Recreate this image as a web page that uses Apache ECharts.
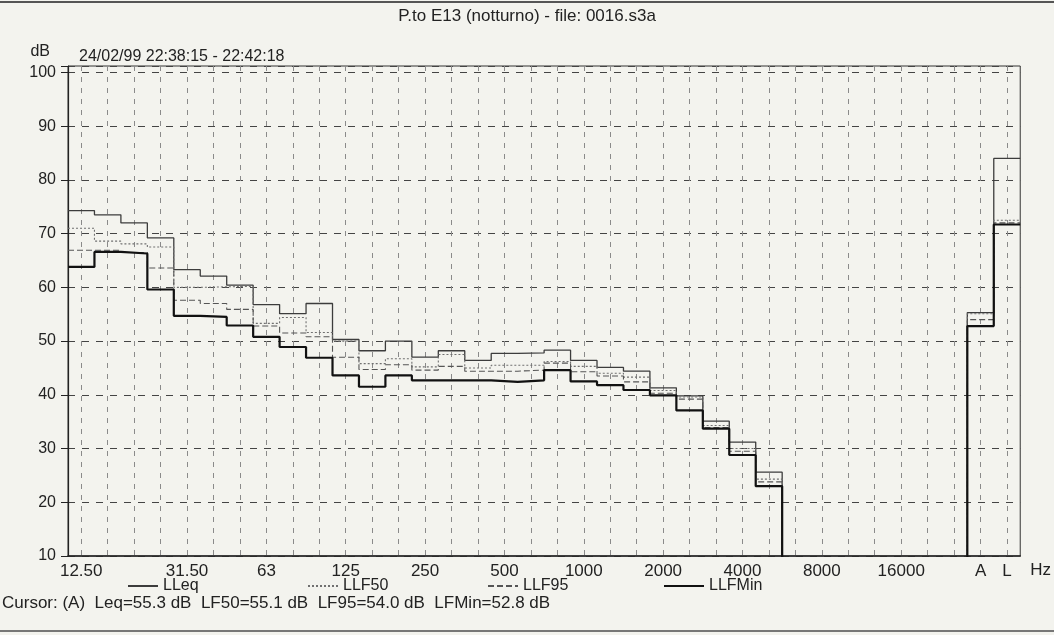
<!DOCTYPE html>
<html>
<head>
<meta charset="utf-8">
<title>P.to E13 (notturno) - file: 0016.s3a</title>
<script src="https://cdn.jsdelivr.net/npm/echarts@6/dist/echarts.min.js"></script>
<style>
  html, body { margin: 0; padding: 0; background: #f3f3ee; }
  #chart { width: 1054px; height: 635px; }
</style>
</head>
<body>
<div id="chart"></div>
<script>
// 1/3 octave bands 12.5 Hz .. 20 kHz, an empty slot, then the A and L totals
const bands = ['12.5', '16', '20', '25', '31.5', '40', '50', '63', '80', '100',
  '125', '160', '200', '250', '315', '400', '500', '630', '800', '1000',
  '1250', '1600', '2000', '2500', '3150', '4000', '5000', '6300', '8000', '10000',
  '12500', '16000', '20000', '', 'A', 'L']

const tickLabels = ['12.50', '', '', '', '31.50', '', '', '63', '', '',
  '125', '', '', '250', '', '', '500', '', '', '1000',
  '', '', '2000', '', '', '4000', '', '', '8000', '',
  '', '16000', '', '', 'A', 'L']

// dB values per band (0 = nothing measured above the bottom of the scale)
const lleq = [74.3, 73.5, 72.0, 69.2, 63.3, 62.1, 60.4, 56.8, 55.1, 57.0,
  50.3, 48.2, 50.0, 47.0, 48.2, 46.4, 47.7, 47.8, 48.3, 46.4,
  45.1, 44.4, 41.3, 39.8, 35.1, 31.2, 25.6, 0, 0, 0,
  0, 0, 0, 0, 55.3, 84.0]

const llf50 = [71.0, 68.6, 68.1, 67.5, 60.0, 60.1, 60.2, 53.3, 54.4, 51.6,
  50.0, 45.8, 46.7, 45.2, 47.5, 45.0, 45.5, 45.5, 46.2, 45.3,
  44.0, 43.3, 40.8, 39.6, 34.3, 30.0, 24.3, 0, 0, 0,
  0, 0, 0, 0, 55.1, 72.5]

const llf95 = [66.9, 66.9, 66.5, 63.6, 57.6, 57.0, 55.9, 52.8, 51.5, 50.8,
  47.0, 44.7, 45.6, 44.6, 45.3, 44.4, 44.4, 44.6, 45.9, 44.3,
  43.5, 42.4, 40.3, 39.2, 33.9, 29.5, 23.8, 0, 0, 0,
  0, 0, 0, 0, 54.0, 72.0]

const llfmin = [63.8, 66.6, 66.3, 59.6, 54.7, 54.5, 52.9, 50.8, 48.9, 46.9,
  43.6, 41.5, 43.6, 42.7, 42.7, 42.7, 42.4, 42.7, 44.6, 42.5,
  41.8, 40.9, 39.9, 37.1, 33.7, 28.8, 23.0, 0, 0, 0,
  0, 0, 0, 0, 52.8, 71.7]

const FONT = '"Liberation Sans", Arial, sans-serif'
const INK = '#222'

// each band is drawn as a flat step from its left edge to its right edge
const toSteps = values => values.map((v, i) => [i, v]).concat([[values.length, values[values.length - 1]]])

const chart = echarts.init(document.getElementById('chart'))

const stepSeries = (name, values, lineStyle) => ({
  name,
  type: 'line',
  xAxisIndex: 1,
  step: 'end',
  symbol: 'none',
  clip: true,
  silent: true,
  animation: false,
  color: lineStyle.color,
  itemStyle: { color: lineStyle.color },
  lineStyle,
  data: toSteps(values)
})

const legendAt = (name, left, itemWidth) => ({
  data: [name],
  left,
  top: 573,
  itemWidth,
  itemHeight: 10,
  itemGap: 0,
  itemStyle: { opacity: 0 },
  textStyle: { color: INK, fontSize: 16, fontFamily: FONT }
})

const option = {
  backgroundColor: '#f3f3ee',
  animation: false,
  title: [
    {
      text: 'P.to E13 (notturno) - file: 0016.s3a',
      left: 'center',
      top: 3,
      textStyle: { color: INK, fontSize: 17, fontWeight: 'normal', fontFamily: FONT }
    },
    {
      text: '24/02/99 22:38:15 - 22:42:18',
      left: 74,
      top: 44,
      textStyle: { color: INK, fontSize: 16, fontWeight: 'normal', fontFamily: FONT }
    }
  ],
  legend: [
    legendAt('LLeq', 122, 30),
    legendAt('LLF50', 302, 30),
    legendAt('LLF95', 482, 30),
    legendAt('LLFMin', 658, 40)
  ],
  grid: {
    left: 68,
    right: 33,
    top: 66,
    bottom: 79,
    show: true,
    borderColor: '#333',
    borderWidth: 1,
    backgroundColor: 'transparent'
  },
  xAxis: [
    {
      type: 'category',
      data: bands,
      boundaryGap: true,
      name: 'Hz',
      nameLocation: 'end',
      nameGap: 10,
      nameTextStyle: { color: INK, fontSize: 17, fontFamily: FONT, verticalAlign: 'top', padding: [6, 0, 0, 0] },
      axisLine: { lineStyle: { color: INK, width: 1.5 } },
      axisTick: { show: false },
      axisLabel: {
        interval: 0,
        margin: 7,
        color: INK,
        fontSize: 17,
        fontFamily: FONT,
        formatter: (v, i) => tickLabels[i]
      },
      splitLine: {
        show: true,
        alignWithLabel: true,
        lineStyle: { color: '#8a8a8a', type: [5, 6], width: 1 }
      }
    },
    {
      type: 'value',
      min: 0,
      max: bands.length,
      show: false
    }
  ],
  yAxis: {
    type: 'value',
    min: 10,
    max: 101.2,
    interval: 10,
    name: 'dB',
    nameLocation: 'end',
    nameGap: 6,
    nameTextStyle: { color: INK, fontSize: 16, fontFamily: FONT, align: 'right', padding: [0, 18, 0, 0] },
    axisLine: { show: true, lineStyle: { color: INK, width: 1.2 } },
    axisTick: { show: true, length: 7, lineStyle: { color: INK } },
    axisLabel: {
      color: INK,
      fontSize: 16,
      fontFamily: FONT,
      margin: 12,
      formatter: v => (v % 10 === 0 ? String(v) : '')
    },
    splitLine: {
      lineStyle: { color: '#444', type: [7, 7], width: 1 }
    }
  },
  graphic: [
    {
      type: 'line',
      shape: { x1: 0, y1: 2, x2: 1054, y2: 2 },
      style: { stroke: '#555', lineWidth: 2 }
    },
    {
      type: 'line',
      shape: { x1: 0, y1: 631, x2: 1054, y2: 631 },
      style: { stroke: '#777', lineWidth: 2 }
    },
    {
      type: 'text',
      left: 2,
      top: 595,
      style: {
        text: 'Cursor: (A)  Leq=55.3 dB  LF50=55.1 dB  LF95=54.0 dB  LFMin=52.8 dB',
        fill: INK,
        font: '17px ' + FONT
      }
    }
  ],
  series: [
    stepSeries('LLeq', lleq, { color: '#3c3c3c', width: 1.3, type: 'solid' }),
    stepSeries('LLF50', llf50, { color: '#707070', width: 1.1, type: [2, 2] }),
    stepSeries('LLF95', llf95, { color: '#555555', width: 1.1, type: [6, 3] }),
    stepSeries('LLFMin', llfmin, { color: '#111111', width: 2.2, type: 'solid' })
  ]
}

chart.setOption(option)
window.addEventListener('resize', () => chart.resize())
</script>
</body>
</html>
